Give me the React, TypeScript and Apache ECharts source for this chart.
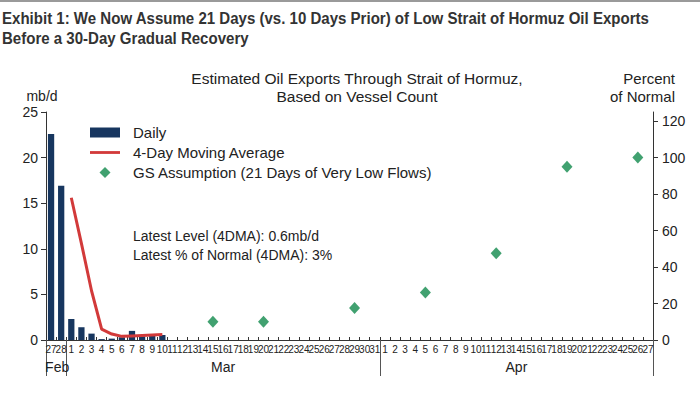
import React, { useEffect, useRef } from "react";
import * as echarts from "echarts";

const dates: string[] = [
  "Feb 27", "Feb 28",
  "Mar 1", "Mar 2", "Mar 3", "Mar 4", "Mar 5", "Mar 6", "Mar 7", "Mar 8", "Mar 9", "Mar 10",
  "Mar 11", "Mar 12", "Mar 13", "Mar 14", "Mar 15", "Mar 16", "Mar 17", "Mar 18", "Mar 19", "Mar 20",
  "Mar 21", "Mar 22", "Mar 23", "Mar 24", "Mar 25", "Mar 26", "Mar 27", "Mar 28", "Mar 29", "Mar 30", "Mar 31",
  "Apr 1", "Apr 2", "Apr 3", "Apr 4", "Apr 5", "Apr 6", "Apr 7", "Apr 8", "Apr 9", "Apr 10",
  "Apr 11", "Apr 12", "Apr 13", "Apr 14", "Apr 15", "Apr 16", "Apr 17", "Apr 18", "Apr 19", "Apr 20",
  "Apr 21", "Apr 22", "Apr 23", "Apr 24", "Apr 25", "Apr 26", "Apr 27",
];

// Daily exports (mb/d), Feb 27 .. Mar 10
const daily: (number | null)[] = [22.6, 16.9, 2.3, 1.4, 0.7, 0.1, 0.15, 0.3, 1.0, 0.4, 0.45, 0.55];
// 4-day moving average (mb/d), Feb 27 .. Mar 10
const movingAvg: (number | null)[] = [null, null, 15.6, 10.6, 5.4, 1.2, 0.65, 0.4, 0.45, 0.5, 0.55, 0.6];
// GS assumption, percent of normal
const gsDates: string[] = ["Mar 15", "Mar 20", "Mar 29", "Apr 5", "Apr 12", "Apr 19", "Apr 26"];
const gsValues: number[] = [10, 10, 17.5, 26, 47.5, 95, 100];

const monthLabels: { at: string; name: string }[] = [
  { at: "Feb 28", name: "Feb" },
  { at: "Mar 16", name: "Mar" },
  { at: "Apr 14", name: "Apr" },
];
const monthStarts: string[] = ["Feb 27", "Mar 1", "Apr 1"];

const leftTicks = [0, 5, 10, 15, 20, 25];
const rightTicks = [0, 20, 40, 60, 80, 100, 120];

const FONT = "'Liberation Sans', Arial, sans-serif";
const TXT = "#222";

export default function App() {
  const ref = useRef<HTMLDivElement>(null);
  useEffect(() => {
    if (!ref.current) return;
    const chart = echarts.init(ref.current, undefined, { renderer: "svg" });
    const labelIdx = monthLabels.map((m) => dates.indexOf(m.at));
    const startIdx = monthStarts.map((m) => dates.indexOf(m));
    chart.setOption({
      animation: false,
      textStyle: { fontFamily: FONT },
      grid: { left: 46, right: 47, top: 112, bottom: 54, containLabel: false },
      legend: {
        orient: "vertical",
        left: 85,
        top: 120,
        itemWidth: 30,
        itemHeight: 11,
        itemGap: 5,
        textStyle: { fontSize: 15, color: TXT, fontFamily: FONT, padding: [0, 0, 0, 8] },
        data: [
          { name: "Daily", icon: "path://M0,0 L30,0 L30,10 L0,10 Z" },
          { name: "4-Day Moving Average", icon: "path://M0,0 L32,0 L32,3 L0,3 Z" },
          { name: "GS Assumption (21 Days of Very Low Flows)", icon: "path://M5.5,0 L11,5.5 L5.5,11 L0,5.5 Z" },
        ],
      },
      graphic: [
        { type: "rect", left: 0, top: 0, shape: { width: 700, height: 2 }, style: { fill: "#9a9a9a" } },
        {
          type: "text",
          x: 2,
          y: 8,
          scaleX: 0.885,
          style: {
            text: "Exhibit 1: We Now Assume 21 Days (vs. 10 Days Prior) of Low Strait of Hormuz Oil Exports\nBefore a 30-Day Gradual Recovery",
            fontFamily: FONT,
            fontWeight: "bold",
            fontSize: 17,
            lineHeight: 20,
            fill: "#333",
          },
        },
        {
          type: "text",
          x: 357,
          y: 69,
          style: {
            text: "Estimated Oil Exports Through Strait of Hormuz,\nBased on Vessel Count",
            fontFamily: FONT,
            fontSize: 15.5,
            lineHeight: 18,
            fill: TXT,
            align: "center",
          },
        },
        {
          type: "text",
          x: 675,
          y: 69,
          style: {
            text: "Percent\nof Normal",
            fontFamily: FONT,
            fontSize: 15,
            lineHeight: 18,
            fill: TXT,
            align: "right",
          },
        },
        {
          type: "text",
          left: 133,
          top: 226,
          style: {
            text: "Latest Level (4DMA): 0.6mb/d\nLatest % of Normal (4DMA): 3%",
            fontFamily: FONT,
            fontSize: 14,
            lineHeight: 19,
            fill: TXT,
          },
        },
      ],
      xAxis: [
        {
          type: "category",
          data: dates,
          boundaryGap: true,
          axisLine: { lineStyle: { color: "#333", width: 1 } },
          axisTick: { show: true, inside: true, length: 3, interval: 0, lineStyle: { color: "#333" } },
          axisLabel: {
            interval: 0,
            margin: 4,
            fontSize: 10,
            color: TXT,
            fontFamily: FONT,
            formatter: (v: string) => v.split(" ")[1],
          },
        },
        {
          type: "category",
          data: dates,
          position: "bottom",
          boundaryGap: true,
          axisLine: { show: false },
          axisTick: {
            show: true,
            length: 36,
            interval: (i: number) => startIdx.indexOf(i) >= 0,
            lineStyle: { color: "#555" },
          },
          axisLabel: {
            interval: (i: number) => labelIdx.indexOf(i) >= 0,
            margin: 20,
            fontSize: 14,
            color: TXT,
            fontFamily: FONT,
            formatter: (v: string) => {
              const m = monthLabels.find((x) => x.at === v);
              if (!m) return "";
              return m.name === "Feb" ? "{feb|" + m.name + "}" : m.name;
            },
            rich: { feb: { fontSize: 14, color: TXT, fontFamily: FONT, padding: [0, 8, 0, 0] } },
          },
        },
      ],
      yAxis: [
        {
          type: "value",
          min: 0,
          max: 25,
          interval: 5,
          name: "mb/d",
          nameLocation: "end",
          nameGap: 9,
          nameTextStyle: { fontSize: 14, color: TXT, fontFamily: FONT, align: "center", padding: [0, 8, 0, 0] },
          axisLine: { show: true, lineStyle: { color: "#333" } },
          axisTick: { show: true, length: 5, lineStyle: { color: "#333" } },
          axisLabel: { fontSize: 14, color: TXT, margin: 8, fontFamily: FONT, customValues: leftTicks },
          splitLine: { show: false },
        },
        {
          type: "value",
          min: 0,
          max: 125,
          position: "right",
          axisLine: { show: true, lineStyle: { color: "#333" } },
          axisTick: { show: true, length: 5, customValues: rightTicks, lineStyle: { color: "#333" } },
          axisLabel: { fontSize: 14, color: TXT, margin: 9, fontFamily: FONT, customValues: rightTicks },
          splitLine: { show: false },
        },
      ],
      series: [
        {
          name: "Daily",
          type: "bar",
          xAxisIndex: 0,
          yAxisIndex: 0,
          data: daily,
          barWidth: "62%",
          itemStyle: { color: "#17365f" },
        },
        {
          name: "4-Day Moving Average",
          type: "line",
          xAxisIndex: 0,
          yAxisIndex: 0,
          data: movingAvg,
          symbol: "none",
          lineStyle: { color: "#d23a3a", width: 3 },
          itemStyle: { color: "#d23a3a" },
        },
        {
          name: "GS Assumption (21 Days of Very Low Flows)",
          type: "scatter",
          xAxisIndex: 0,
          yAxisIndex: 1,
          symbol: "diamond",
          symbolSize: [11, 12],
          data: gsDates.map((d, i) => [d, gsValues[i]]),
          itemStyle: { color: "#128a4c" },
        },
      ],
    });
    return () => chart.dispose();
  }, []);
  return (
    <div
      ref={ref}
      style={{ position: "fixed", left: 0, top: 0, width: 700, height: 394, background: "#fff" }}
    />
  );
}
